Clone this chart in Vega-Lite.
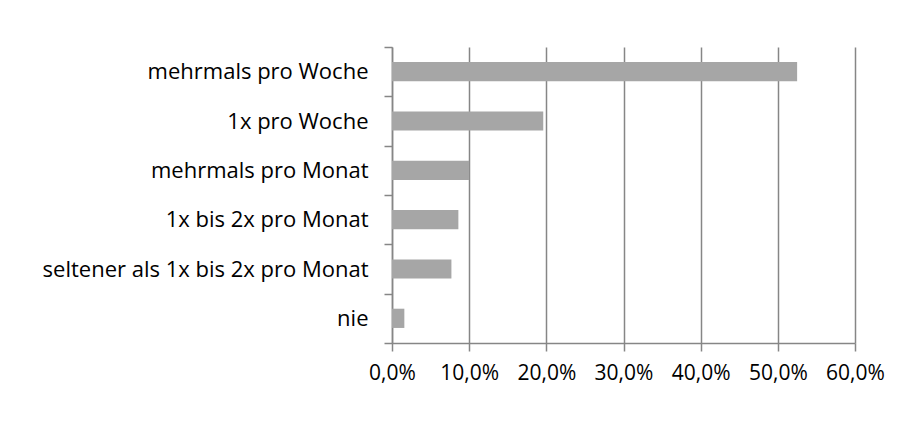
{
  "$schema": "https://vega.github.io/schema/vega-lite/v6.json",
  "autosize": "none",
  "width": 463,
  "height": 296,
  "padding": {"left": 392, "top": 47, "right": 45, "bottom": 84},
  "background": "white",
  "config": {
    "view": {"stroke": null},
    "font": "Open Sans"
  },
  "data": {
    "values": [
      {"kategorie": "mehrmals pro Woche", "anteil": 0.525},
      {"kategorie": "1x pro Woche", "anteil": 0.196},
      {"kategorie": "mehrmals pro Monat", "anteil": 0.100},
      {"kategorie": "1x bis 2x pro Monat", "anteil": 0.086},
      {"kategorie": "seltener als 1x bis 2x pro Monat", "anteil": 0.077},
      {"kategorie": "nie", "anteil": 0.016}
    ]
  },
  "mark": {"type": "bar", "color": "#a6a6a6", "height": {"band": 0.39}},
  "encoding": {
    "y": {
      "field": "kategorie",
      "type": "nominal",
      "sort": null,
      "title": null,
      "scale": {"paddingInner": 0, "paddingOuter": 0},
      "axis": {
        "domainColor": "#868686",
        "domainWidth": 1.5,
        "tickColor": "#868686",
        "tickWidth": 1.5,
        "tickSize": 8,
        "tickBand": "extent",
        "labelPadding": 16,
        "labelFontSize": 22,
        "labelColor": "#000000",
        "labelLimit": 400,
        "grid": false
      }
    },
    "x": {
      "field": "anteil",
      "type": "quantitative",
      "title": null,
      "scale": {"domain": [0, 0.6], "nice": false},
      "axis": {
        "values": [0, 0.1, 0.2, 0.3, 0.4, 0.5, 0.6],
        "labelExpr": "replace(format(datum.value, '.1%'), '.', ',')",
        "domainColor": "#868686",
        "domainWidth": 1.5,
        "tickColor": "#868686",
        "tickWidth": 1.5,
        "tickSize": 8,
        "labelPadding": 11,
        "labelFontSize": 21,
        "labelColor": "#000000",
        "labelFlush": false,
        "grid": true,
        "gridColor": "#868686",
        "gridWidth": 1.5
      }
    }
  }
}
